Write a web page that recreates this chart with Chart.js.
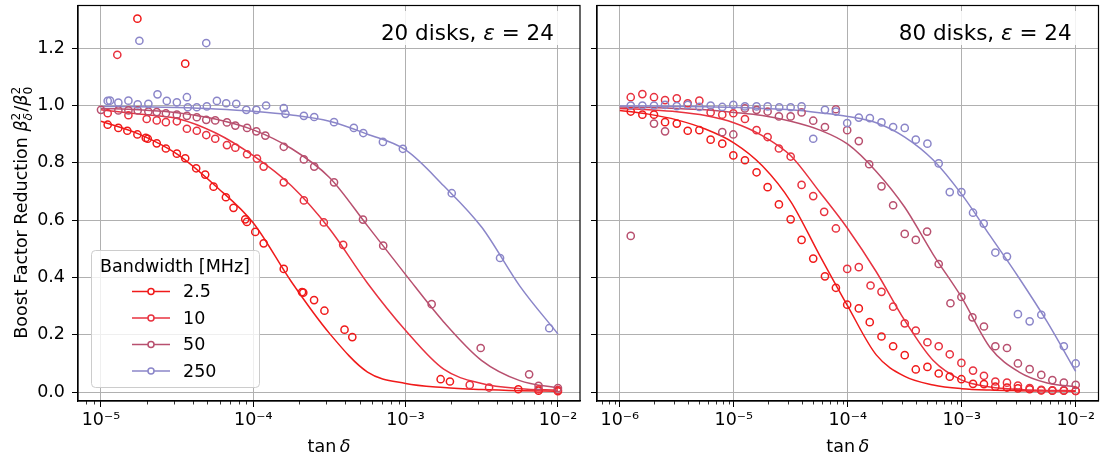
<!DOCTYPE html>
<html>
<head>
<meta charset="utf-8">
<script src="https://cdn.jsdelivr.net/npm/chart.js@4.4.0/dist/chart.umd.min.js"></script>
<style>
  html, body { margin: 0; padding: 0; background: #fff; }
  #wrap { position: relative; width: 1104px; height: 462px; }
  canvas { position: absolute; top: 0; }
  #left { left: 0; }
  #right { left: 588px; }
</style>
</head>
<body>
<div id="wrap">
  <canvas id="left" width="588" height="462"></canvas>
  <canvas id="right" width="516" height="462"></canvas>
</div>
<script>
// legend entries (bandwidth in MHz) and their colours
const bandLabels = ["2.5", "10", "50", "250"];
const bandColors = ["#f01a1a", "#e8323f", "#b8506f", "#8b86c9"];

// y ticks
const yTickValues = [0, 0.2, 0.4, 0.6, 0.8, 1.0, 1.2];
const yTickLabels = ["0.0", "0.2", "0.4", "0.6", "0.8", "1.0", "1.2"];

// x ticks (decades of tan delta)
const leftDecades = [-5, -4, -3, -2];
const leftTickLabels = ["10\u207B\u2075", "10\u207B\u2074", "10\u207B\u00B3", "10\u207B\u00B2"];
const rightDecades = [-6, -5, -4, -3, -2];
const rightTickLabels = ["10\u207B\u2076", "10\u207B\u2075", "10\u207B\u2074", "10\u207B\u00B3", "10\u207B\u00B2"];

// ---- left panel: 20 disks ----
// fitted curves, read at log10(tan delta) = -5 ... -2
const leftLineLogX = [-5, -4.75, -4.5, -4.25, -4, -3.75, -3.5, -3.25, -3, -2.75, -2.5, -2.25, -2];
const leftLine25 = [0.945, 0.90, 0.83, 0.72, 0.59, 0.385, 0.205, 0.07, 0.03, 0.016, 0.009, 0.005, 0.003];
const leftLine10 = [0.985, 0.97, 0.955, 0.905, 0.825, 0.72, 0.57, 0.38, 0.215, 0.08, 0.03, 0.012, 0.007];
const leftLine50 = [0.99, 0.985, 0.975, 0.953, 0.915, 0.85, 0.749, 0.58, 0.41, 0.245, 0.11, 0.04, 0.014];
const leftLine250 = [0.997, 0.996, 0.993, 0.988, 0.98, 0.967, 0.945, 0.90, 0.845, 0.72, 0.575, 0.37, 0.203];

// measured points [log10(tan delta), reduction]
const leftPts25 = [[-4.761,1.303],[-4.447,1.146],[-4.956,0.933],[-4.886,0.922],[-4.827,0.912],[-4.761,0.899],[-4.706,0.887],[-4.693,0.884],[-4.634,0.868],[-4.574,0.850],[-4.502,0.832],[-4.447,0.816],[-4.375,0.781],[-4.316,0.759],[-4.261,0.717],[-4.180,0.680],[-4.130,0.643],[-4.053,0.603],[-4.042,0.594],[-3.987,0.559],[-3.932,0.519],[-3.800,0.430],[-3.680,0.349],[-3.672,0.347],[-3.601,0.321],[-3.533,0.284],[-3.401,0.218],[-3.350,0.192],[-2.770,0.045],[-2.709,0.037],[-2.260,0.010],[-2.127,0.005],[-2.000,0.003]];
const leftPts10 = [[-4.893,1.177],[-4.956,0.973],[-4.820,0.966],[-4.700,0.953],[-4.634,0.948],[-4.574,0.942],[-4.502,0.945],[-4.436,0.919],[-4.371,0.912],[-4.309,0.897],[-4.250,0.884],[-4.173,0.862],[-4.118,0.853],[-4.041,0.830],[-3.976,0.815],[-3.932,0.787],[-3.800,0.732],[-3.668,0.669],[-3.537,0.592],[-3.410,0.514],[-2.579,0.025],[-2.452,0.016],[-2.127,0.010],[-2.000,0.007]];
const leftPts50 = [[-5.000,0.985],[-4.886,0.983],[-4.820,0.983],[-4.759,0.983],[-4.689,0.979],[-4.634,0.977],[-4.574,0.973],[-4.502,0.968],[-4.436,0.964],[-4.371,0.959],[-4.309,0.950],[-4.250,0.948],[-4.173,0.941],[-4.118,0.930],[-4.041,0.922],[-3.980,0.910],[-3.921,0.895],[-3.800,0.856],[-3.668,0.812],[-3.600,0.787],[-3.470,0.732],[-3.280,0.602],[-3.147,0.511],[-2.829,0.307],[-2.507,0.154],[-2.189,0.062],[-2.127,0.022],[-2.000,0.014]];
const leftPts250 = [[-4.748,1.226],[-4.309,1.218],[-4.956,1.016],[-4.941,1.017],[-4.886,1.010],[-4.820,1.017],[-4.759,1.004],[-4.689,1.006],[-4.629,1.039],[-4.568,1.016],[-4.502,1.011],[-4.436,1.029],[-4.430,0.994],[-4.371,0.994],[-4.305,0.997],[-4.239,1.016],[-4.178,1.008],[-4.112,1.006],[-4.046,0.985],[-3.980,0.985],[-3.916,1.000],[-3.800,0.991],[-3.789,0.971],[-3.668,0.964],[-3.600,0.960],[-3.470,0.942],[-3.340,0.922],[-3.278,0.904],[-3.149,0.873],[-3.018,0.849],[-2.697,0.694],[-2.380,0.468],[-2.057,0.223]];

// ---- right panel: 80 disks ----
const rightLineLogX = [-6, -5.75, -5.5, -5.25, -5, -4.75, -4.5, -4.25, -4, -3.75, -3.5, -3.25, -3, -2.75, -2.5, -2.25, -2];
const rightLine25 = [0.983, 0.97, 0.95, 0.918, 0.87, 0.79, 0.665, 0.48, 0.30, 0.13, 0.055, 0.025, 0.012, 0.007, 0.005, 0.004, 0.003];
const rightLine10 = [0.99, 0.985, 0.978, 0.965, 0.94, 0.895, 0.825, 0.70, 0.57, 0.42, 0.25, 0.11, 0.042, 0.018, 0.009, 0.006, 0.005];
const rightLine50 = [0.995, 0.993, 0.99, 0.985, 0.976, 0.965, 0.945, 0.915, 0.865, 0.77, 0.645, 0.48, 0.33, 0.155, 0.071, 0.032, 0.019];
const rightLine250 = [0.998, 0.998, 0.997, 0.996, 0.994, 0.99, 0.985, 0.975, 0.962, 0.94, 0.89, 0.81, 0.69, 0.545, 0.40, 0.245, 0.072];

const rightPts25 = [[-5.904,0.979],[-5.802,0.968],[-5.700,0.968],[-5.603,0.942],[-5.500,0.937],[-5.404,0.912],[-5.302,0.914],[-5.203,0.881],[-5.101,0.867],[-5.004,0.826],[-4.902,0.809],[-4.800,0.767],[-4.703,0.715],[-4.604,0.655],[-4.501,0.603],[-4.405,0.531],[-4.303,0.466],[-4.200,0.404],[-4.104,0.364],[-4.005,0.305],[-3.903,0.292],[-3.807,0.244],[-3.704,0.194],[-3.602,0.160],[-3.500,0.129],[-3.403,0.079],[-3.301,0.088],[-3.202,0.065],[-3.105,0.054],[-3.003,0.045],[-2.901,0.029],[-2.805,0.028],[-2.705,0.019],[-2.603,0.016],[-2.507,0.013],[-2.404,0.010],[-2.302,0.006],[-2.205,0.005],[-2.104,0.005],[-2.000,0.004]];
const rightPts10 = [[-5.904,1.029],[-5.802,1.040],[-5.700,1.029],[-5.603,1.019],[-5.500,1.025],[-5.404,1.008],[-5.302,1.017],[-5.203,0.976],[-5.101,0.968],[-5.004,0.973],[-4.902,0.953],[-4.800,0.914],[-4.703,0.890],[-4.604,0.850],[-4.501,0.822],[-4.405,0.723],[-4.303,0.684],[-4.207,0.629],[-4.104,0.571],[-4.005,0.430],[-3.903,0.436],[-3.800,0.372],[-3.704,0.350],[-3.602,0.298],[-3.500,0.240],[-3.403,0.215],[-3.301,0.174],[-3.202,0.160],[-3.105,0.132],[-3.003,0.102],[-2.901,0.075],[-2.805,0.057],[-2.705,0.037],[-2.603,0.033],[-2.507,0.023],[-2.404,0.014],[-2.302,0.008],[-2.205,0.006],[-2.104,0.006],[-2.000,0.004]];
const rightPts50 = [[-5.904,0.545],[-5.700,0.937],[-5.603,0.910],[-5.101,0.907],[-5.004,0.899],[-4.902,0.990],[-4.800,0.985],[-4.703,0.979],[-4.604,0.962],[-4.501,0.962],[-4.405,0.976],[-4.303,0.947],[-4.200,0.925],[-4.104,0.987],[-4.005,0.914],[-3.903,0.876],[-3.812,0.795],[-3.704,0.718],[-3.602,0.652],[-3.500,0.552],[-3.403,0.531],[-3.304,0.560],[-3.202,0.447],[-3.099,0.310],[-3.003,0.332],[-2.906,0.261],[-2.805,0.229],[-2.705,0.160],[-2.603,0.154],[-2.507,0.100],[-2.404,0.080],[-2.302,0.060],[-2.205,0.042],[-2.104,0.033],[-2.000,0.025]];
const rightPts250 = [[-5.904,1.000],[-5.802,1.000],[-5.700,1.000],[-5.603,1.002],[-5.500,0.998],[-5.404,1.002],[-5.302,0.995],[-5.203,1.000],[-5.101,0.995],[-5.004,1.002],[-4.902,0.997],[-4.800,0.997],[-4.703,0.997],[-4.601,0.994],[-4.501,0.994],[-4.405,0.997],[-4.303,0.884],[-4.200,0.985],[-4.104,0.979],[-4.005,0.939],[-3.903,0.958],[-3.806,0.956],[-3.704,0.941],[-3.602,0.925],[-3.500,0.922],[-3.403,0.881],[-3.301,0.867],[-3.202,0.798],[-3.105,0.698],[-3.003,0.698],[-2.901,0.626],[-2.807,0.588],[-2.705,0.487],[-2.603,0.473],[-2.507,0.272],[-2.404,0.247],[-2.302,0.270],[-2.104,0.160],[-2.000,0.100]];

const FONT = "'DejaVu Sans', 'Liberation Sans', sans-serif";
const fontStr = (size, italic) => (italic ? "italic " : "") + size + "px " + FONT;

function toXY(pairs) {
  return pairs.map(p => ({ x: Math.pow(10, p[0]), y: p[1] }));
}
function lineXY(logx, ys) {
  return logx.map((lx, i) => ({ x: Math.pow(10, lx), y: ys[i] }));
}

// text with italic parts and stacked sub/superscripts
function richWidth(ctx, parts, size) {
  let w = 0;
  parts.forEach(p => {
    if (p.sub !== undefined) {
      ctx.font = fontStr(size * 0.7, p.itSub);
      const a = ctx.measureText(p.sub).width;
      ctx.font = fontStr(size * 0.7, false);
      const b = ctx.measureText(p.sup).width;
      w += Math.max(a, b) + 1;
    } else {
      ctx.font = fontStr(size, p.it);
      w += ctx.measureText(p.t).width;
    }
  });
  return w;
}
function drawRich(ctx, parts, x, y, size) {
  ctx.textAlign = "left";
  ctx.textBaseline = "alphabetic";
  parts.forEach(p => {
    if (p.sub !== undefined) {
      ctx.font = fontStr(size * 0.7, p.itSub);
      const a = ctx.measureText(p.sub).width;
      ctx.fillText(p.sub, x, y + size * 0.28);
      ctx.font = fontStr(size * 0.7, false);
      const b = ctx.measureText(p.sup).width;
      ctx.fillText(p.sup, x, y - size * 0.42);
      x += Math.max(a, b) + 1;
    } else {
      ctx.font = fontStr(size, p.it);
      ctx.fillText(p.t, x, y);
      x += ctx.measureText(p.t).width;
    }
  });
}

function extrasPlugin(panel) {
  return {
    id: "extras",
    afterDraw(chart) {
      const ctx = chart.ctx;
      const a = chart.chartArea;
      const xs = chart.scales.x;
      ctx.save();
      ctx.fillStyle = "#000";
      ctx.strokeStyle = "#000";

      // minor ticks on the log axis
      ctx.lineWidth = 0.8;
      panel.decades.concat([panel.decades[0] - 1]).forEach(d => {
        for (let k = 2; k <= 9; k++) {
          const v = k * Math.pow(10, d);
          if (v < xs.min || v > xs.max) continue;
          const px = Math.round(xs.getPixelForValue(v)) + 0.5;
          ctx.beginPath();
          ctx.moveTo(px, a.bottom);
          ctx.lineTo(px, a.bottom + 3.5);
          ctx.stroke();
        }
      });

      // frame
      ctx.lineWidth = 1.2;
      ctx.strokeRect(a.left, a.top, a.right - a.left, a.bottom - a.top);

      // x title
      const xt = [{ t: "tan\u2009" }, { t: "\u03B4", it: true }];
      const xw = richWidth(ctx, xt, 17.5);
      drawRich(ctx, xt, (a.left + a.right) / 2 - xw / 2, 452, 17.5);

      // y title
      if (panel.yTitle) {
        const yt = [{ t: "Boost Factor Reduction " }, { t: "\u03B2", it: true }, { sub: "\u03B4", itSub: true, sup: "2" },
                    { t: "/" }, { t: "\u03B2", it: true }, { sub: "0", sup: "2" }];
        const yw = richWidth(ctx, yt, 17.5);
        ctx.save();
        ctx.translate(27, (a.top + a.bottom) / 2 + 9);
        ctx.rotate(-Math.PI / 2);
        drawRich(ctx, yt, -yw / 2, 0, 17.5);
        ctx.restore();
      }

      // annotation box, top right
      const at = [{ t: panel.note + " " }, { t: "\u03B5", it: true }, { t: " = 24" }];
      const aw = richWidth(ctx, at, 21.5);
      const ax = xs.getPixelForValue(Math.pow(10, -2)) - 4 - aw;
      ctx.fillStyle = "rgba(255,255,255,0.85)";
      ctx.fillRect(ax - 11, 11, aw + 24, 34);
      ctx.fillStyle = "#000";
      drawRich(ctx, at, ax, 40, 21.5);

      // legend
      if (panel.legend) {
        const lx = 91, ly = 250, lw = 168, lh = 137;
        ctx.fillStyle = "rgba(255,255,255,0.8)";
        ctx.strokeStyle = "#cccccc";
        ctx.lineWidth = 1;
        ctx.beginPath();
        ctx.roundRect(lx + 0.5, ly + 0.5, lw, lh, 4);
        ctx.fill();
        ctx.stroke();
        ctx.fillStyle = "#000";
        ctx.font = fontStr(17.5, false);
        ctx.textAlign = "center";
        ctx.textBaseline = "alphabetic";
        ctx.fillText("Bandwidth [MHz]", lx + lw / 2, 272);
        bandLabels.forEach((lab, i) => {
          const ry = 291.5 + i * 26.5;
          ctx.strokeStyle = bandColors[i];
          ctx.lineWidth = 1.5;
          ctx.beginPath();
          ctx.moveTo(132, ry);
          ctx.lineTo(170, ry);
          ctx.stroke();
          ctx.beginPath();
          ctx.arc(151, ry, 3, 0, Math.PI * 2);
          ctx.fillStyle = "#fff";
          ctx.fill();
          ctx.stroke();
          ctx.fillStyle = "#000";
          ctx.textAlign = "left";
          ctx.textBaseline = "middle";
          ctx.fillText(lab, 183, ry + 1);
        });
      }
      ctx.restore();
    }
  };
}

function buildDatasets(logx, lines, pts) {
  const sets = [];
  bandLabels.forEach((lab, i) => {
    sets.push({
      label: lab + " MHz fit",
      data: lineXY(logx, lines[i]),
      showLine: true,
      borderColor: bandColors[i],
      borderWidth: 1.5,
      pointRadius: 0,
      cubicInterpolationMode: "monotone",
      fill: false,
      order: 10 - i
    });
    sets.push({
      label: lab + " MHz",
      data: toXY(pts[i]),
      showLine: false,
      pointRadius: 3.6,
      pointBorderWidth: 1.5,
      pointBorderColor: bandColors[i],
      pointBackgroundColor: "rgba(0,0,0,0)",
      order: 5 - i
    });
  });
  return sets;
}

function makePanel(id, panel) {
  new Chart(document.getElementById(id), {
    type: "scatter",
    data: { datasets: buildDatasets(panel.logx, panel.lines, panel.pts) },
    options: {
      responsive: false,
      animation: false,
      events: [],
      layout: { padding: { left: 0, right: panel.padRight, top: 1, bottom: 0 } },
      plugins: { legend: { display: false }, tooltip: { enabled: false } },
      scales: {
        x: {
          type: "logarithmic",
          min: panel.xMin,
          max: panel.xMax,
          afterBuildTicks: s => { s.ticks = panel.decades.map(d => ({ value: Math.pow(10, d) })); },
          afterFit: s => { s.height = 61; s.paddingLeft = 0; s.paddingRight = 0; },
          ticks: {
            callback: (v, i) => panel.tickLabels[i],
            font: { family: FONT, size: 17.5 },
            color: "#000",
            padding: 3,
            maxRotation: 0,
            autoSkip: false
          },
          grid: { color: "#b0b0b0", tickColor: "#000", tickLength: 6, lineWidth: 1 },
          border: { display: true, color: "#000", width: 1.2 }
        },
        y: {
          type: "linear",
          min: -0.031,
          max: 1.349,
          afterBuildTicks: s => { s.ticks = yTickValues.map(v => ({ value: v })); },
          afterFit: s => { s.width = panel.yWidth; s.paddingTop = 0; s.paddingBottom = 0; },
          ticks: {
            display: panel.yLabels,
            callback: (v, i) => yTickLabels[i],
            font: { family: FONT, size: 17.5 },
            color: "#000",
            padding: 7
          },
          grid: { color: "#b0b0b0", tickColor: "#000", tickLength: 6, lineWidth: 1 },
          border: { display: true, color: "#000", width: 1.2 }
        }
      }
    },
    plugins: [extrasPlugin(panel)]
  });
}

makePanel("left", {
  logx: leftLineLogX,
  lines: [leftLine25, leftLine10, leftLine50, leftLine250],
  pts: [leftPts25, leftPts10, leftPts50, leftPts250],
  decades: leftDecades,
  tickLabels: leftTickLabels,
  xMin: Math.pow(10, -5.151),
  xMax: Math.pow(10, -1.855),
  padRight: 8,
  yWidth: 78,
  yLabels: true,
  yTitle: true,
  legend: true,
  note: "20 disks,"
});

makePanel("right", {
  logx: rightLineLogX,
  lines: [rightLine25, rightLine10, rightLine50, rightLine250],
  pts: [rightPts25, rightPts10, rightPts50, rightPts250],
  decades: rightDecades,
  tickLabels: rightTickLabels,
  xMin: Math.pow(10, -6.2),
  xMax: Math.pow(10, -1.8),
  padRight: 5,
  yWidth: 9,
  yLabels: false,
  yTitle: false,
  legend: false,
  note: "80 disks,"
});
</script>
</body>
</html>
